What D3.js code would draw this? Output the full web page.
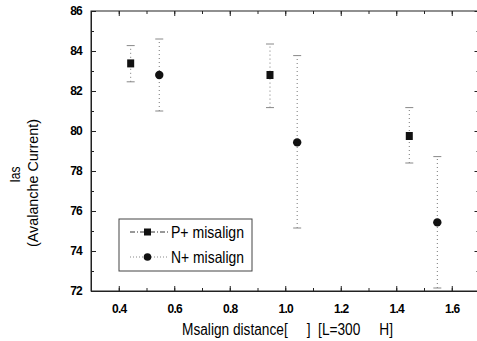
<!DOCTYPE html>
<html>
<head>
<meta charset="utf-8">
<script src="https://d3js.org/d3.v7.min.js"></script>
<style>
  body { margin: 0; background: #fff; }
  svg { display: block; }
  text { font-family: "Liberation Sans", Arial, sans-serif; fill: #000; }
  .tick text { font-size: 12px; font-weight: bold; letter-spacing: -0.8px; }
</style>
</head>
<body>
<script>
// P+ misalign (squares)
var pX = [0.443, 0.945, 1.447];
var pY = [83.38, 82.8, 79.75];
var pLo = [82.46, 81.17, 78.4];
var pHi = [84.27, 84.35, 81.17];
// N+ misalign (circles)
var nX = [0.546, 1.043, 1.548];
var nY = [82.8, 79.43, 75.43];
var nLo = [81.0, 75.15, 72.15];
var nHi = [84.6, 83.77, 78.72];

var xTicks = [0.4, 0.6, 0.8, 1.0, 1.2, 1.4, 1.6];
var yTicks = [72, 74, 76, 78, 80, 82, 84, 86];
var seriesNames = ["P+ misalign", "N+ misalign"];

var W = 477, H = 341;
var svg = d3.select("body").append("svg").attr("width", W).attr("height", H);

var x = d3.scaleLinear().domain([0.3, 1.7]).range([91, 479.5]);
var y = d3.scaleLinear().domain([72, 86]).range([291, 11]);

var minorX = d3.range(0.3, 1.71, 0.1).map(function(v){ return +v.toFixed(2); });
var minorY = d3.range(72, 86.1, 1);

// frame
svg.append("rect")
  .attr("x", 91).attr("y", 11)
  .attr("width", 479.5 - 91).attr("height", 291 - 11)
  .attr("fill", "none").attr("stroke", "#222").attr("stroke-width", 1);

// bottom axis
var xAxis = svg.append("g").attr("transform", "translate(0,291)")
  .call(d3.axisBottom(x).tickValues(xTicks).tickSize(-5).tickPadding(13)
    .tickFormat(d3.format(".1f")));
xAxis.select(".domain").attr("stroke", "#222");
svg.append("g").attr("transform", "translate(0,291)")
  .call(d3.axisBottom(x).tickValues(minorX).tickSize(-3).tickFormat(""))
  .call(function(g){ g.select(".domain").remove(); });

// top axis
svg.append("g").attr("transform", "translate(0,11)")
  .call(d3.axisTop(x).tickValues(xTicks).tickSize(-5).tickFormat(""))
  .call(function(g){ g.select(".domain").remove(); });
svg.append("g").attr("transform", "translate(0,11)")
  .call(d3.axisTop(x).tickValues(minorX).tickSize(-3).tickFormat(""))
  .call(function(g){ g.select(".domain").remove(); });

// left axis
var yAxis = svg.append("g").attr("transform", "translate(91,0)")
  .call(d3.axisLeft(y).tickValues(yTicks).tickSize(-5).tickPadding(9));
yAxis.select(".domain").attr("stroke", "#222");
svg.append("g").attr("transform", "translate(91,0)")
  .call(d3.axisLeft(y).tickValues(minorY).tickSize(-3).tickFormat(""))
  .call(function(g){ g.select(".domain").remove(); });

// right axis
svg.append("g").attr("transform", "translate(479.5,0)")
  .call(d3.axisRight(y).tickValues(yTicks).tickSize(-5).tickFormat(""))
  .call(function(g){ g.select(".domain").remove(); });
svg.append("g").attr("transform", "translate(479.5,0)")
  .call(d3.axisRight(y).tickValues(minorY).tickSize(-3).tickFormat(""))
  .call(function(g){ g.select(".domain").remove(); });

svg.selectAll(".tick line").attr("stroke", "#222");

// error bars
function errBars(xs, lo, hi, col) {
  var g = svg.append("g");
  xs.forEach(function(v, i) {
    g.append("line")
      .attr("x1", x(v)).attr("x2", x(v))
      .attr("y1", y(lo[i])).attr("y2", y(hi[i]))
      .attr("stroke", col).attr("stroke-width", 1)
      .attr("stroke-dasharray", "1,3");
    [lo[i], hi[i]].forEach(function(e) {
      g.append("line")
        .attr("x1", x(v) - 4).attr("x2", x(v) + 4)
        .attr("y1", y(e)).attr("y2", y(e))
        .attr("stroke", "#888").attr("stroke-width", 1);
    });
  });
}
errBars(pX, pLo, pHi, "#777");
errBars(nX, nLo, nHi, "#777");

// markers
svg.selectAll(".sq").data(pX).enter().append("rect")
  .attr("class", "sq")
  .attr("x", function(d){ return x(d) - 3.5; })
  .attr("y", function(d, i){ return y(pY[i]) - 4; })
  .attr("width", 7).attr("height", 8)
  .attr("fill", "#111");
svg.selectAll(".ci").data(nX).enter().append("circle")
  .attr("class", "ci")
  .attr("cx", function(d){ return x(d); })
  .attr("cy", function(d, i){ return y(nY[i]); })
  .attr("r", 4.2)
  .attr("fill", "#111");

// legend
var lg = svg.append("g");
lg.append("rect").attr("x", 119).attr("y", 219).attr("width", 133).attr("height", 52)
  .attr("fill", "#fff").attr("stroke", "#444").attr("stroke-width", 1);
seriesNames.forEach(function(name, i) {
  var ly = 232 + i * 25;
  lg.append("line").attr("x1", 130).attr("x2", 168).attr("y1", ly).attr("y2", ly)
    .attr("stroke", i === 0 ? "#333" : "#888")
    .attr("stroke-dasharray", i === 0 ? "5,2,1,2" : "1,2");
  if (i === 0) {
    lg.append("rect").attr("x", 144).attr("y", ly - 3.5).attr("width", 7).attr("height", 7).attr("fill", "#111");
  } else {
    lg.append("circle").attr("cx", 147.5).attr("cy", ly).attr("r", 3.8).attr("fill", "#111");
  }
  lg.append("text").attr("x", 171).attr("y", ly + 6)
    .attr("font-size", 16.5)
    .attr("textLength", 73).attr("lengthAdjust", "spacingAndGlyphs")
    .text(name);
});

// axis titles
svg.append("text")
  .attr("transform", "translate(20,174.5) rotate(-90)")
  .attr("text-anchor", "middle").attr("font-size", 14)
  .attr("textLength", 16).attr("lengthAdjust", "spacingAndGlyphs")
  .text("Ias");
svg.append("text")
  .attr("transform", "translate(38,183) rotate(-90)")
  .attr("text-anchor", "middle").attr("font-size", 14.5)
  .attr("textLength", 128).attr("lengthAdjust", "spacingAndGlyphs")
  .text("(Avalanche Current)");
svg.append("text")
  .attr("x", 182).attr("y", 335)
  .attr("font-size", 16)
  .attr("xml:space", "preserve")
  .attr("textLength", 211).attr("lengthAdjust", "spacingAndGlyphs")
  .text("Msalign distance[     ]  [L=300     H]");
</script>
</body>
</html>
